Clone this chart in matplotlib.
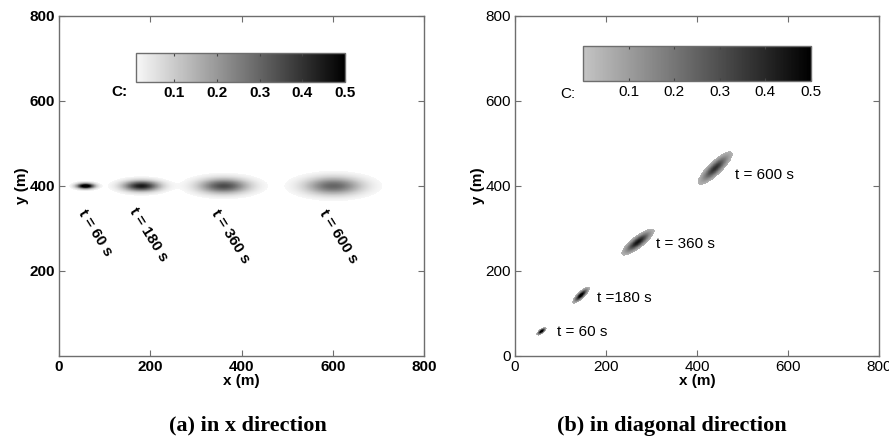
import numpy as np
import matplotlib
matplotlib.use("Agg")
import matplotlib.pyplot as plt
from matplotlib.colors import LinearSegmentedColormap, Normalize

# ---- data ----
# (a) plume moving in x direction
a_cx = [58, 180, 360, 600]
a_cy = [400, 400, 400, 400]
a_sig_major = [13, 27, 37, 42]
a_sig_minor = [4.4, 8.6, 12, 14]
a_peak = [0.6, 0.45, 0.35, 0.3]
a_angle = [0, 0, 0, 0]
a_lab_x = [79, 195, 375, 612]
a_lab_y = [289, 285, 280, 280]
a_lab_text = ["t = 60 s", "t = 180 s", "t = 360 s", "t = 600 s"]

# (b) plume moving in diagonal direction
b_cx = [58, 145, 270, 440]
b_cy = [58, 143, 268, 442]
b_sig_major = [6, 11.5, 21, 25]
b_sig_minor = [2.6, 3.8, 6.5, 7.5]
b_peak = [0.6, 0.55, 0.45, 0.38]
b_angle = [40, 46, 40, 46]
b_lab_x = [92, 180, 310, 483]
b_lab_y = [56, 136, 264, 426]
b_lab_text = ["t = 60 s", "t =180 s", "t = 360 s", "t = 600 s"]

cbar_ticks = [0.1, 0.2, 0.3, 0.4, 0.5]
axis_ticks = [0, 200, 400, 600, 800]


def conc_field(cx, cy, smaj, smin, peak, ang, thr):
    g = np.linspace(0, 800, 1601)
    X, Y = np.meshgrid(g, g)
    C = np.zeros_like(X)
    for x0, y0, sa, sb, p, a in zip(cx, cy, smaj, smin, peak, ang):
        t = np.deg2rad(a)
        u = (X - x0) * np.cos(t) + (Y - y0) * np.sin(t)
        v = -(X - x0) * np.sin(t) + (Y - y0) * np.cos(t)
        C += p * np.exp(-0.5 * (u**2 / sa**2 + v**2 / sb**2))
    return np.ma.masked_less(C, thr)


cmap_a = LinearSegmentedColormap.from_list("ga", ["#f8f8f8", "#000000"])
cmap_b = LinearSegmentedColormap.from_list("gb", ["#c4c4c4", "#000000"])
cmap_a.set_bad("white")
cmap_b.set_bad("white")

fig = plt.figure(figsize=(8.89, 4.48), dpi=100)
spine_col = "#6e6e6e"

panels = [
    dict(pos=[0.0664, 0.2054, 0.4106, 0.7589], cb=[0.153, 0.817, 0.235, 0.0647],
         cx=a_cx, cy=a_cy, sa=a_sig_major, sb=a_sig_minor, pk=a_peak, ang=a_angle,
         lx=a_lab_x, ly=a_lab_y, lt=a_lab_text, rot=-58, cmap=cmap_a, vmin=0.01,
         thr=0.012, weight="bold", yticks=[200, 400, 600, 800], clab=(0.125, 0.795),
         caption="(a) in x direction", capx=0.279),
    dict(pos=[0.5793, 0.2054, 0.4094, 0.7589], cb=[0.6558, 0.8192, 0.2565, 0.078],
         cx=b_cx, cy=b_cy, sa=b_sig_major, sb=b_sig_minor, pk=b_peak, ang=b_angle,
         lx=b_lab_x, ly=b_lab_y, lt=b_lab_text, rot=0, cmap=cmap_b, vmin=0.0,
         thr=0.04, weight="normal", yticks=axis_ticks, clab=(0.630, 0.790),
         caption="(b) in diagonal direction", capx=0.756),
]

for p in panels:
    ax = fig.add_axes(p["pos"])
    C = conc_field(p["cx"], p["cy"], p["sa"], p["sb"], p["pk"], p["ang"], p["thr"])
    norm = Normalize(vmin=p["vmin"], vmax=0.5)
    im = ax.imshow(C, origin="lower", extent=[0, 800, 0, 800], cmap=p["cmap"],
                   norm=norm, interpolation="nearest", aspect="auto")
    ax.set_xlim(0, 800)
    ax.set_ylim(0, 800)
    ax.set_xticks(axis_ticks)
    ax.set_yticks(p["yticks"])
    ax.tick_params(direction="in", length=4, width=0.8, top=True, right=True,
                   labelsize=11, labelcolor="black", color=spine_col, pad=3)
    for lab in ax.get_xticklabels() + ax.get_yticklabels():
        lab.set_fontfamily("Liberation Sans")
        lab.set_fontweight(p["weight"])
    for s in ax.spines.values():
        s.set_color(spine_col)
        s.set_linewidth(1.0)
    ax.set_xlabel("x (m)", fontsize=11, fontweight="bold", family="Liberation Sans",
                  labelpad=0)
    ax.set_ylabel("y (m)", fontsize=11, fontweight="bold", family="Liberation Sans",
                  labelpad=0)

    for x, y, t in zip(p["lx"], p["ly"], p["lt"]):
        if p["rot"]:
            ax.text(x, y, t, rotation=p["rot"], rotation_mode="anchor",
                    ha="center", va="center", fontsize=11, fontweight=p["weight"],
                    family="Liberation Sans")
        else:
            ax.text(x, y, t, ha="left", va="center", fontsize=11,
                    fontweight=p["weight"], family="Liberation Sans")

    cax = fig.add_axes(p["cb"])
    cb = fig.colorbar(im, cax=cax, orientation="horizontal", ticks=cbar_ticks)
    cb.outline.set_edgecolor(spine_col)
    cb.outline.set_linewidth(1.0)
    cax.tick_params(direction="in", length=2.5, top=True, bottom=True,
                    labelsize=11, pad=3, color="#444444")
    cax.set_xticklabels([f"{v:.1f}" for v in cbar_ticks])
    for lab in cax.get_xticklabels():
        lab.set_fontfamily("Liberation Sans")
        lab.set_fontweight(p["weight"])
    fig.text(p["clab"][0], p["clab"][1], "C:", fontsize=11, fontweight=p["weight"],
             family="Liberation Sans", ha="left", va="center")

    fig.text(p["capx"], 0.05, p["caption"], fontsize=16, fontweight="bold",
             family="Liberation Serif", ha="center", va="center")

fig.savefig("out.png", dpi=100)
